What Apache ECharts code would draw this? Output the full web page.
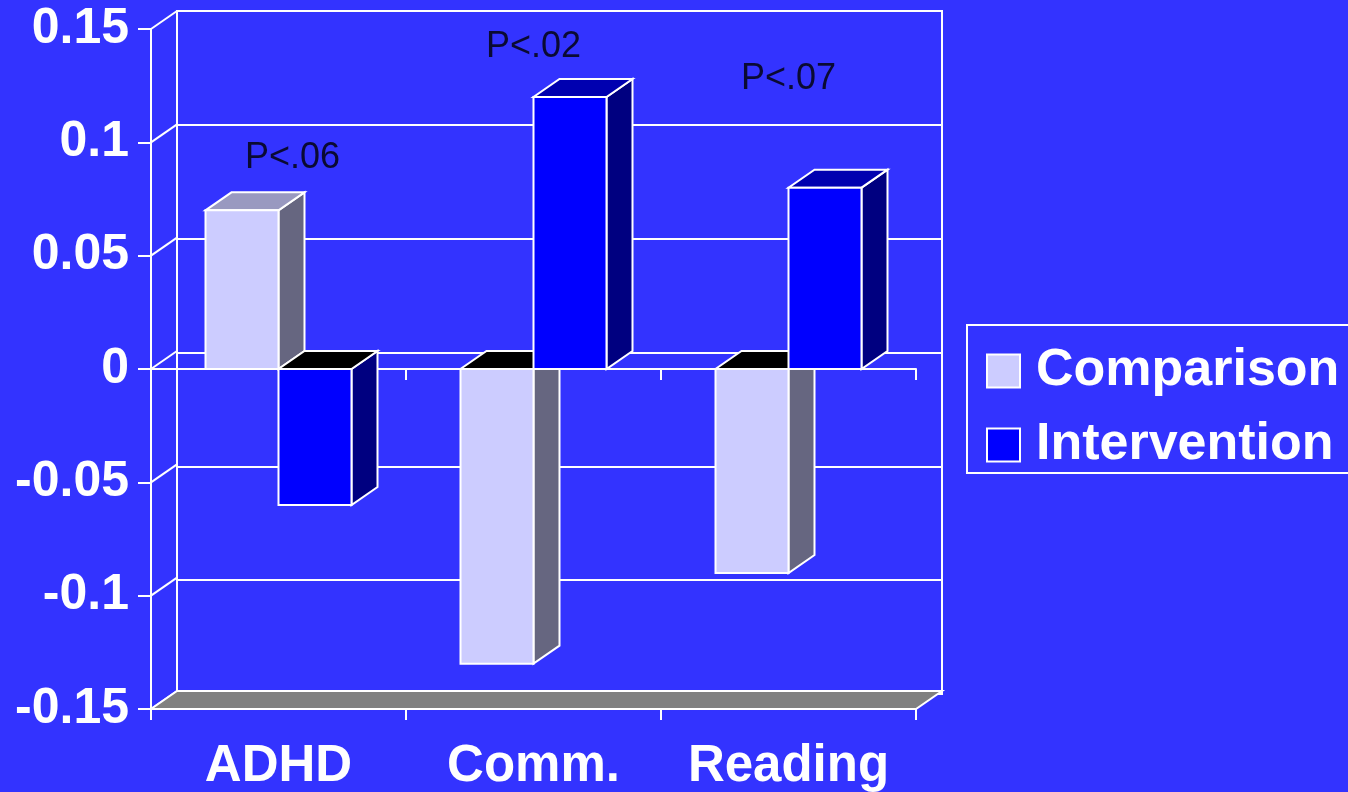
<!DOCTYPE html>
<html>
<head>
<meta charset="utf-8">
<script src="https://cdn.jsdelivr.net/npm/echarts@6/dist/echarts.min.js"></script>
<style>
  html, body { margin: 0; padding: 0; background: #3333FF; }
  #chart { width: 1348px; height: 792px; }
</style>
</head>
<body>
<div id="chart"></div>
<script>
// Effect sizes by outcome domain
const categories = ['ADHD', 'Comm.', 'Reading'];
const comparison = [0.07, -0.13, -0.09];
const intervention = [-0.06, 0.12, 0.08];
const yTicks = [-0.15, -0.1, -0.05, 0, 0.05, 0.1, 0.15];
const pLabels = ['P<.06', 'P<.02', 'P<.07'];
const pLabelLevels = [0.093, 0.142, 0.128];

// Pseudo-3D depth: the back wall is the front plane shifted by (DX, DY)
const DX = 26, DY = -18;
const FRONT = { left: 151, top: 29, width: 765, height: 683 };
const BAR_RATIO = 73 / 255;
const FONT = '"Liberation Sans", Arial, Helvetica, sans-serif';
const WHITE = '#ffffff';

const FACES = {
  Comparison:   { front: '#CCCCFF', side: '#666680', top: '#9999C0', cap: '#000000' },
  Intervention: { front: '#0000FF', side: '#000080', top: '#0000B0', cap: '#000000' }
};

const yMin = yTicks[0], yMax = yTicks[yTicks.length - 1];
const step = 0.05;
const edge = { stroke: WHITE, lineWidth: 2, lineJoin: 'miter' };

function boxRenderer(faces, side) {
  return function (params, api) {
    const idx = api.value(0), v = api.value(1);
    const base = api.coord([idx, 0]);
    const end = api.coord([idx, v]);
    const w = api.size([1, 0])[0] * BAR_RATIO;
    const x0 = side < 0 ? base[0] - w : base[0];
    const x1 = x0 + w;
    const yTop = Math.min(base[1], end[1]);
    const yBot = Math.max(base[1], end[1]);
    return {
      type: 'group',
      children: [
        { type: 'polygon',
          shape: { points: [[x1, yTop], [x1 + DX, yTop + DY], [x1 + DX, yBot + DY], [x1, yBot]] },
          style: Object.assign({ fill: faces.side }, edge) },
        { type: 'polygon',
          shape: { points: [[x0, yTop], [x1, yTop], [x1 + DX, yTop + DY], [x0 + DX, yTop + DY]] },
          style: Object.assign({ fill: v >= 0 ? faces.top : faces.cap }, edge) },
        { type: 'rect',
          shape: { x: x0, y: yTop, width: w, height: yBot - yTop },
          style: Object.assign({ fill: faces.front }, edge) }
      ]
    };
  };
}

const chart = echarts.init(document.getElementById('chart'));

const option = {
  backgroundColor: '#3333FF',
  animation: false,
  grid: [
    // back wall
    { left: FRONT.left + DX, top: FRONT.top + DY, width: FRONT.width, height: FRONT.height,
      show: true, borderColor: WHITE, borderWidth: 2, backgroundColor: 'transparent' },
    // front plane
    { left: FRONT.left, top: FRONT.top, width: FRONT.width, height: FRONT.height }
  ],
  xAxis: [
    { gridIndex: 0, type: 'category', data: categories, show: false },
    { gridIndex: 1, type: 'category', data: categories, position: 'bottom',
      axisLine: { onZero: false, lineStyle: { color: WHITE, width: 2 } },
      axisTick: { show: true, interval: 0, length: 11, lineStyle: { color: WHITE, width: 2 } },
      axisLabel: { interval: 0, color: WHITE, fontSize: 51, fontWeight: 'bold', fontFamily: FONT, margin: 32 },
      splitLine: { show: false } },
    { gridIndex: 1, type: 'category', data: categories, position: 'top',
      axisLine: { onZero: true, lineStyle: { color: WHITE, width: 2 } },
      axisTick: { show: true, interval: 0, inside: true, length: 11, lineStyle: { color: WHITE, width: 2 } },
      axisLabel: { show: false },
      splitLine: { show: false } }
  ],
  yAxis: [
    { gridIndex: 0, type: 'value', min: yMin, max: yMax, interval: step,
      axisLine: { show: false }, axisTick: { show: false }, axisLabel: { show: false },
      splitLine: { show: true, lineStyle: { color: WHITE, width: 2 } } },
    { gridIndex: 1, type: 'value', min: yMin, max: yMax, interval: step,
      axisLine: { show: true, lineStyle: { color: WHITE, width: 2 } },
      axisTick: { show: true, length: 13, lineStyle: { color: WHITE, width: 2 } },
      axisLabel: { color: WHITE, fontSize: 50, fontWeight: 'bold', fontFamily: FONT, margin: 22,
        formatter: function (v) { return String(Math.round(v * 100) / 100); } },
      splitLine: { show: false } }
  ],
  legend: {
    orient: 'vertical',
    left: 967, top: 325,
    padding: [18, 20, 0, 19],
    itemGap: 18,
    itemWidth: 33, itemHeight: 33,
    icon: 'rect',
    borderColor: WHITE, borderWidth: 2,
    itemStyle: { borderColor: WHITE, borderWidth: 2 },
    textStyle: { color: WHITE, fontSize: 52, fontWeight: 'bold', fontFamily: FONT,
      lineHeight: 56, padding: [0, 0, 0, 11] },
    data: ['Comparison', 'Intervention']
  },
  series: [
    { // left-wall diagonals at each tick
      type: 'custom', name: 'wall', xAxisIndex: 1, yAxisIndex: 1, z: 1, silent: true,
      data: yTicks.map(v => [0, v]),
      renderItem: function (params, api) {
        const y = api.coord([0, api.value(1)])[1];
        const x = params.coordSys.x;
        return { type: 'line', shape: { x1: x, y1: y, x2: x + DX, y2: y + DY },
          style: { stroke: WHITE, lineWidth: 2 } };
      }
    },
    { // floor
      type: 'custom', name: 'floor', xAxisIndex: 1, yAxisIndex: 1, z: 1, silent: true,
      data: [[0, yMin]],
      renderItem: function (params, api) {
        const cs = params.coordSys;
        const y = api.coord([0, api.value(1)])[1];
        return { type: 'polygon',
          shape: { points: [[cs.x, y], [cs.x + cs.width, y], [cs.x + cs.width + DX, y + DY], [cs.x + DX, y + DY]] },
          style: Object.assign({ fill: '#808080' }, edge) };
      }
    },
    {
      type: 'custom', name: 'Comparison', xAxisIndex: 1, yAxisIndex: 1, z: 3,
      itemStyle: { color: FACES.Comparison.front },
      data: comparison.map((v, i) => [i, v]),
      encode: { x: 0, y: 1 },
      renderItem: boxRenderer(FACES.Comparison, -1)
    },
    {
      type: 'custom', name: 'Intervention', xAxisIndex: 1, yAxisIndex: 1, z: 3,
      itemStyle: { color: FACES.Intervention.front },
      data: intervention.map((v, i) => [i, v]),
      encode: { x: 0, y: 1 },
      renderItem: boxRenderer(FACES.Intervention, 1)
    },
    {
      type: 'scatter', name: 'p', xAxisIndex: 1, yAxisIndex: 1, z: 4, silent: true,
      symbolSize: 1, itemStyle: { color: 'rgba(0,0,0,0)' },
      data: pLabels.map((t, i) => ({
        value: [i, pLabelLevels[i]], name: t,
        label: { offset: [i === 0 ? 14 : 0, 0] }
      })),
      label: { show: true, position: 'inside', formatter: '{b}', color: '#000000',
        fontSize: 36, fontFamily: FONT, fontWeight: 'normal' }
    }
  ]
};

chart.setOption(option);
</script>
</body>
</html>
